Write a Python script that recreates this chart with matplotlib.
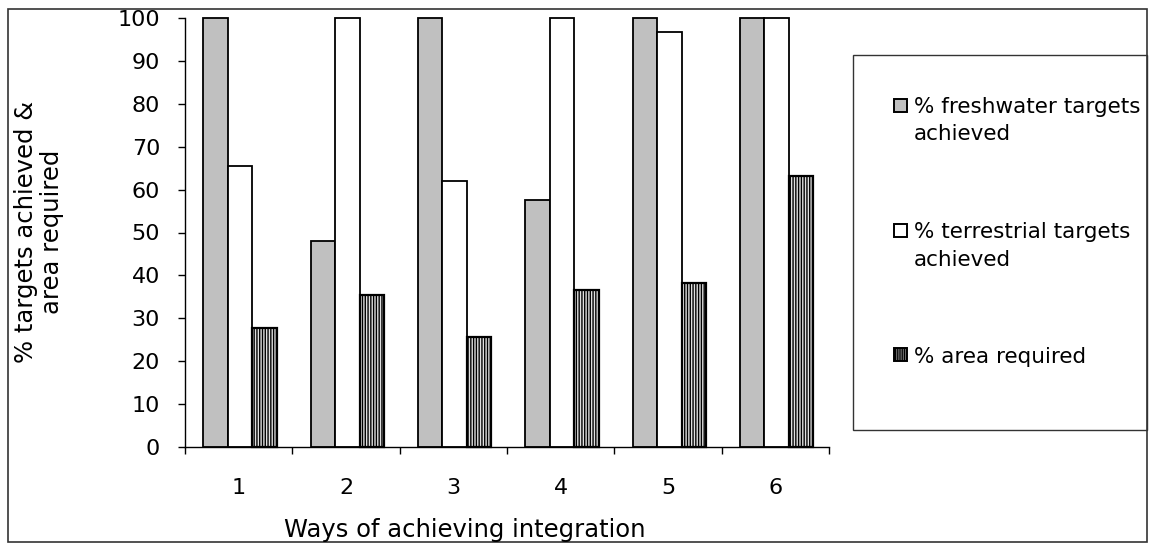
import matplotlib
matplotlib.use("Agg")
import matplotlib.pyplot as plt
from matplotlib.patches import Rectangle
import numpy as np

plt.rcParams['font.family'] = ['DejaVu Sans']
plt.rcParams['hatch.linewidth'] = 1.0

categories = ["1", "2", "3", "4", "5", "6"]
freshwater = [100, 48, 100, 57.5, 100, 100]
terrestrial = [65.6, 100, 62, 100, 96.7, 100]
area = [27.7, 35.5, 25.7, 36.6, 38.2, 63.2]
series_labels = [["% freshwater targets", "achieved"],
                 ["% terrestrial targets", "achieved"],
                 ["% area required"]]
yticks = list(range(0, 101, 10))

W, H = 1152, 545
fig = plt.figure(figsize=(W / 100, H / 100), dpi=100)
fig.patch.set_facecolor('white')

def fx(x):
    return x / W

def fy(y):
    return 1 - y / H

ax = fig.add_axes([fx(185), fy(447), fx(829) - fx(185), fy(18) - fy(447)])

x = np.arange(len(categories))
w = 0.228
styles = [
    dict(facecolor='#c0c0c0', edgecolor='black', linewidth=1.3),
    dict(facecolor='white', edgecolor='black', linewidth=1.3),
    dict(facecolor='#e0e0e0', edgecolor='black', linewidth=1.6, hatch='||||||'),
]
for off, vals, st in zip([-w, 0, w], [freshwater, terrestrial, area], styles):
    bars = ax.bar(x + off + 0.012, vals, width=w, **st)
    for b in bars:
        b.set_clip_on(False)

ax.set_xlim(-0.5, len(categories) - 0.5)
ax.set_ylim(0, 100)
ax.set_yticks(yticks)
ax.set_yticklabels([str(v) for v in yticks], fontsize=16)
ax.set_xticks(np.arange(-0.5, len(categories), 1.0))
ax.set_xticklabels([])
ax.set_xticks(x, minor=True)
ax.set_xticklabels(categories, minor=True, fontsize=16)
ax.tick_params(axis='y', direction='out', length=5, width=1, pad=13)
ax.tick_params(axis='x', which='major', direction='out', length=5, width=1)
ax.tick_params(axis='x', which='minor', length=0, pad=22)
for s in ['top', 'right']:
    ax.spines[s].set_visible(False)
for s in ['left', 'bottom']:
    ax.spines[s].set_linewidth(1)
ax.set_facecolor('white')

# y label
fig.text(fx(39), fy(232), "% targets achieved &\narea required", rotation=90,
         ha='center', va='center', fontsize=17.5, linespacing=1.15)
# x label
fig.text(fx(465), fy(537), "Ways of achieving integration", ha='center',
         va='baseline', fontsize=17.5)

# legend frame
fig.patches.append(Rectangle((fx(853), fy(430)), fx(1147) - fx(853), fy(55) - fy(430),
                             transform=fig.transFigure, fill=False,
                             edgecolor='#333333', linewidth=1))
# legend entries
handle_tops = [99, 224, 348]
baselines = [[113, 140], [238, 266], [363]]
for st, top, lines, bls in zip(styles, handle_tops, series_labels, baselines):
    hst = dict(st)
    hst['linewidth'] = 1.4
    if 'hatch' in hst:
        hst['hatch'] = '|||||||||'
    fig.patches.append(Rectangle((fx(894), fy(top + 13)), fx(13), 13 / H,
                                 transform=fig.transFigure, **hst))
    for line, bl in zip(lines, bls):
        fig.text(fx(914), fy(bl), line, ha='left', va='baseline', fontsize=15.5)

# outer frame
fig.patches.append(Rectangle((fx(8), fy(542)), fx(1147) - fx(8), fy(9) - fy(542),
                             transform=fig.transFigure, fill=False,
                             edgecolor='#333333', linewidth=1.2))

fig.savefig("out.png", dpi=100, facecolor='white')
